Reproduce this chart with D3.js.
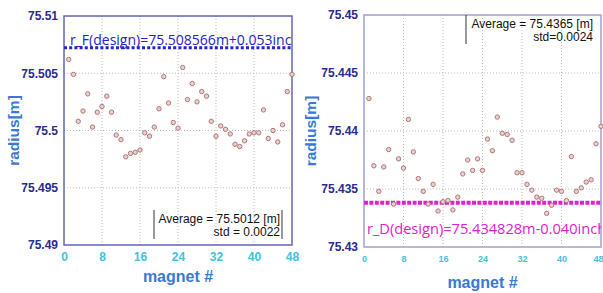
<!DOCTYPE html>
<html>
<head>
<meta charset="utf-8">
<script src="https://cdn.jsdelivr.net/npm/d3@7"></script>
<style>
  body { margin: 0; background: #fff; }
  svg { font-family: "Liberation Sans", Arial, sans-serif; }
</style>
</head>
<body>
<div id="chart"></div>
<script>
// magnet index 1..48
var magnets = d3.range(1, 49);

// radius of F magnets [m]
var radiusF = [
  75.5062, 75.5049, 75.5008, 75.5017, 75.5032, 75.5003, 75.5016, 75.5021,
  75.5030, 75.5016, 75.4996, 75.4992, 75.4977, 75.4980, 75.4981, 75.4983,
  75.4998, 75.4995, 75.5003, 75.5019, 75.5047, 75.5024, 75.5007, 75.5002,
  75.5055, 75.5027, 75.5041, 75.5025, 75.5034, 75.5030, 75.5008, 75.4995,
  75.5004, 75.5001, 75.4997, 75.4988, 75.4986, 75.4991, 75.4997, 75.4998,
  75.4998, 75.5018, 75.4993, 75.5000, 75.4990, 75.5005, 75.5034, 75.5049
];

// radius of D magnets [m]
var radiusD = [
  75.4428, 75.4370, 75.4348, 75.4369, 75.4384, 75.4337, 75.4376, 75.4368,
  75.4410, 75.4382, 75.4359, 75.4348, 75.4337, 75.4354, 75.4331, 75.4339,
  75.4340, 75.4332, 75.4343, 75.4363, 75.4375, 75.4366, 75.4376, 75.4366,
  75.4393, 75.4383, 75.4412, 75.4398, 75.4397, 75.4392, 75.4364, 75.4364,
  75.4354, 75.4349, 75.4343, 75.4342, 75.4329, 75.4336, 75.4349, 75.4348,
  75.4340, 75.4378, 75.4348, 75.4351, 75.4356, 75.4358, 75.4389, 75.4404
];

var xTicks = [0, 8, 16, 24, 32, 40, 48];
var yTicksF = [75.49, 75.495, 75.5, 75.505, 75.51];
var yTicksD = [75.43, 75.435, 75.44, 75.445, 75.45];

var designF = 75.50722;
var designD = 75.43381;
var labelF = "r_F(design)=75.508566m+0.053inch";
var labelD = "r_D(design)=75.434828m-0.040inch";
var statsF = ["Average = 75.5012 [m]", "std = 0.0022"];
var statsD = ["Average = 75.4365 [m]", "std=0.0024"];

var W = 603, H = 293;
var svg = d3.select("#chart").append("svg")
    .attr("width", W).attr("height", H);

function panel(cfg) {
  var x = d3.scaleLinear().domain([0, 48]).range([cfg.x0, cfg.x1]);
  var y = d3.scaleLinear().domain(cfg.yDomain).range([cfg.y1, cfg.y0]);
  var g = svg.append("g");

  g.append("clipPath").attr("id", cfg.id)
    .append("rect")
    .attr("x", cfg.x0).attr("y", cfg.y0)
    .attr("width", cfg.x1 - cfg.x0).attr("height", cfg.y1 - cfg.y0);

  // grid
  g.append("g").selectAll("line").data(xTicks.slice(1, -1)).enter().append("line")
    .attr("x1", function(d) { return x(d); }).attr("x2", function(d) { return x(d); })
    .attr("y1", cfg.y0).attr("y2", cfg.y1)
    .attr("stroke", "#bbb").attr("stroke-width", 1).attr("stroke-dasharray", "1,2");
  g.append("g").selectAll("line").data(cfg.yTicks.slice(1, -1)).enter().append("line")
    .attr("x1", cfg.x0).attr("x2", cfg.x1)
    .attr("y1", function(d) { return y(d); }).attr("y2", function(d) { return y(d); })
    .attr("stroke", "#bbb").attr("stroke-width", 1).attr("stroke-dasharray", "1,2");

  // axes
  var yAxis = d3.axisLeft(y).tickValues(cfg.yTicks).tickSize(0).tickPadding(6)
    .tickFormat(function(d) { return String(+d.toFixed(3)); });
  var ya = g.append("g").attr("transform", "translate(" + cfg.x0 + ",0)").call(yAxis);
  ya.select(".domain").remove();
  ya.selectAll("text").attr("fill", "#2b2b8e").style("font-weight", "bold")
    .style("font-size", "12px");

  var xAxis = d3.axisBottom(x).tickValues(xTicks).tickSize(0).tickPadding(cfg.xPad);
  var xa = g.append("g").attr("transform", "translate(0," + cfg.y1 + ")").call(xAxis);
  xa.select(".domain").remove();
  xa.selectAll("text").attr("fill", "#45c0e0").style("font-weight", "bold")
    .style("font-size", cfg.xFont);
  if (cfg.lastEnd) {
    xa.selectAll(".tick:last-of-type text").attr("text-anchor", "end").attr("dx", 2);
  }

  // frame
  g.append("rect")
    .attr("x", cfg.x0).attr("y", cfg.y0)
    .attr("width", cfg.x1 - cfg.x0).attr("height", cfg.y1 - cfg.y0)
    .attr("fill", "none").attr("stroke", cfg.frame).attr("stroke-width", 1.5);

  // design line
  g.append("line")
    .attr("x1", cfg.x0).attr("x2", cfg.x1)
    .attr("y1", y(cfg.design)).attr("y2", y(cfg.design))
    .attr("stroke", cfg.dColor).attr("stroke-width", cfg.dWidth)
    .attr("stroke-dasharray", cfg.dDash);

  g.append("text")
    .attr("clip-path", "url(#" + cfg.id + ")")
    .attr("x", cfg.x0 + cfg.labelDx).attr("y", y(cfg.design) + cfg.labelDy)
    .attr("fill", cfg.dColor).style("font-size", cfg.labelFont)
    .style("font-family", "'Open Sans', sans-serif")
    .text(cfg.label);

  // points
  g.append("g").selectAll("circle").data(cfg.values).enter().append("circle")
    .attr("cx", function(d, i) { return x(magnets[i]); })
    .attr("cy", function(d) { return y(d); })
    .attr("r", 2.2)
    .attr("fill", "#ecd0d0").attr("stroke", "#b07878").attr("stroke-width", 1);

  // stats box
  var sb = g.append("g");
  sb.selectAll("text").data(cfg.stats).enter().append("text")
    .attr("x", cfg.statX).attr("y", function(d, i) { return cfg.statY + i * 13; })
    .attr("text-anchor", "end").style("font-size", "12px").attr("fill", "#111")
    .text(function(d) { return d; });
  sb.selectAll("line").data(cfg.statLines).enter().append("line")
    .attr("x1", function(d) { return d; }).attr("x2", function(d) { return d; })
    .attr("y1", cfg.statY - 13).attr("y2", cfg.statY + 16)
    .attr("stroke", "#333").attr("stroke-width", 1);

  // titles
  g.append("text")
    .attr("x", (cfg.x0 + cfg.x1) / 2).attr("y", cfg.titleY)
    .attr("text-anchor", "middle").attr("fill", "#3a78d6")
    .style("font-size", "16px").style("font-weight", "bold")
    .text("magnet #");
  g.append("text")
    .attr("transform", "translate(" + cfg.yTitleX + "," + ((cfg.y0 + cfg.y1) / 2) + ") rotate(-90)")
    .attr("text-anchor", "middle").attr("fill", "#3a78d6")
    .style("font-size", "15.5px").style("font-weight", "bold")
    .text("radius[m]");
}

panel({
  id: "clipF", x0: 64, x1: 292, y0: 16, y1: 245,
  yDomain: [75.49, 75.51], yTicks: yTicksF, values: radiusF,
  xPad: 7, xFont: "12px", frame: "#6464b4", lastEnd: false,
  design: designF, dColor: "#2424c8", dWidth: 3, dDash: "3,2.2",
  label: labelF, labelFont: "14px", labelDx: 6, labelDy: -3,
  stats: statsF, statX: 280, statY: 223, statLines: [154, 282],
  titleY: 282, yTitleX: 19
});

panel({
  id: "clipD", x0: 364, x1: 601, y0: 15, y1: 247,
  yDomain: [75.43, 75.45], yTicks: yTicksD, values: radiusD,
  xPad: 9, xFont: "9px", frame: "#a0a0d4", lastEnd: true,
  design: designD, dColor: "#e020d0", dWidth: 4, dDash: "4,1.4",
  label: labelD, labelFont: "14.6px", labelDx: 3, labelDy: 31,
  stats: statsD, statX: 593, statY: 28, statLines: [466],
  titleY: 288, yTitleX: 316
});
</script>
</body>
</html>
